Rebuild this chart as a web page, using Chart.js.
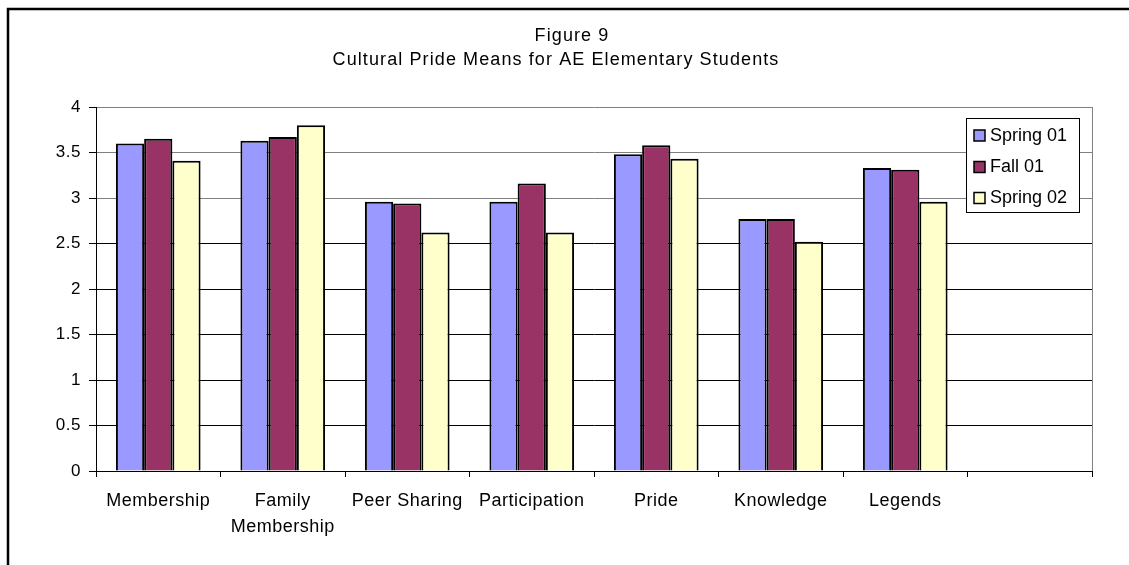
<!DOCTYPE html>
<html>
<head>
<meta charset="utf-8">
<script src="https://cdn.jsdelivr.net/npm/chart.js@4/dist/chart.umd.min.js"></script>
<style>
  html, body { margin: 0; padding: 0; background: #fff; }
  #wrap { width: 1129px; height: 565px; }
</style>
</head>
<body>
<div id="wrap"><canvas id="c" width="1129" height="565"></canvas></div>
<script>
const titleLines = ['Figure 9', 'Cultural Pride Means for AE Elementary Students'];
const categories = ['Membership', ['Family', 'Membership'], 'Peer Sharing', 'Participation', 'Pride', 'Knowledge', 'Legends', ''];
const seriesNames = ['Spring 01', 'Fall 01', 'Spring 02'];
const spring01 = [3.60, 3.63, 2.96, 2.96, 3.48, 2.77, 3.33, null];
const fall01   = [3.65, 3.67, 2.94, 3.16, 3.58, 2.77, 3.31, null];
const spring02 = [3.41, 3.80, 2.62, 2.62, 3.43, 2.52, 2.96, null];
const seriesColors = ['#9999FF', '#993366', '#FFFFCC'];
const yTicks = [0, 0.5, 1, 1.5, 2, 2.5, 3, 3.5, 4];

const FONT = '"Liberation Sans", Arial, sans-serif';

const framePlugin = {
  id: 'frame',
  beforeDraw(chart) {
    const ctx = chart.ctx;
    ctx.save();
    ctx.fillStyle = '#fff';
    ctx.fillRect(0, 0, chart.width, chart.height);
    ctx.restore();
    ctx.letterSpacing = '0.5px';
  },
  afterDraw(chart) {
    const ctx = chart.ctx;
    const a = chart.chartArea;
    ctx.save();
    // outer frame
    ctx.strokeStyle = '#000';
    ctx.lineWidth = 2.5;
    ctx.beginPath();
    ctx.moveTo(8, 565);
    ctx.lineTo(8, 9);
    ctx.lineTo(1129, 9);
    ctx.stroke();
    // plot area right border
    ctx.strokeStyle = '#808080';
    ctx.lineWidth = 1;
    ctx.beginPath();
    ctx.moveTo(a.right + 0.5, a.top);
    ctx.lineTo(a.right + 0.5, a.bottom);
    ctx.stroke();
    // title
    ctx.fillStyle = '#000';
    ctx.font = '18px ' + FONT;
    ctx.letterSpacing = '1.1px';
    ctx.textAlign = 'center';
    ctx.textBaseline = 'middle';
    ctx.fillText(titleLines[0], 572, 36);
    ctx.fillText(titleLines[1], 556, 60);
    // legend
    const bx = 966, by = 118, bw = 113, bh = 94;
    ctx.fillStyle = '#fff';
    ctx.fillRect(bx, by, bw, bh);
    ctx.strokeStyle = '#000';
    ctx.lineWidth = 1;
    ctx.strokeRect(bx + 0.5, by + 0.5, bw, bh);
    const rows = [135, 166.5, 197.5];
    ctx.letterSpacing = '0px';
    chart.data.datasets.forEach((ds, i) => {
      const y = rows[i];
      ctx.fillStyle = ds.backgroundColor;
      ctx.fillRect(974, y - 5, 11, 11);
      ctx.strokeStyle = '#000';
      ctx.lineWidth = 1.5;
      ctx.strokeRect(974, y - 5, 11, 11);
      ctx.fillStyle = '#000';
      ctx.font = '18px ' + FONT;
      ctx.textAlign = 'left';
      ctx.textBaseline = 'middle';
      ctx.fillText(ds.label, 990, y + 1);
    });
    ctx.restore();
  }
};

const datasets = [spring01, fall01, spring02].map((d, i) => ({
  label: seriesNames[i],
  data: d,
  backgroundColor: seriesColors[i],
  borderColor: '#000',
  borderWidth: 2,
  categoryPercentage: 0.68,
  barPercentage: 1.0
}));

new Chart(document.getElementById('c'), {
  type: 'bar',
  data: { labels: categories, datasets },
  options: {
    responsive: false,
    animation: false,
    layout: { padding: { top: 107, right: 37, left: 0, bottom: 0 } },
    plugins: { legend: { display: false }, title: { display: false }, tooltip: { enabled: false } },
    scales: {
      y: {
        min: 0, max: 4,
        afterBuildTicks(scale) { scale.ticks = yTicks.map(v => ({ value: v })); },
        afterFit(scale) { scale.width = 96; },
        ticks: {
          color: '#000',
          font: { family: FONT, size: 17 },
          padding: 8,
          callback: v => String(v)
        },
        grid: {
          color: ctx => (ctx.tick && ctx.tick.value >= 3) ? '#808080' : '#000',
          lineWidth: 1,
          tickLength: 7,
          tickColor: '#000'
        },
        border: { color: '#000', width: 1 }
      },
      x: {
        afterFit(scale) { scale.height = 94; },
        ticks: {
          color: '#000',
          font: { family: FONT, size: 18, lineHeight: 1.45 },
          padding: 11,
          maxRotation: 0,
          autoSkip: false
        },
        grid: {
          offset: true,
          drawOnChartArea: false,
          tickLength: 6,
          color: '#000'
        },
        border: { color: '#000', width: 1 }
      }
    }
  },
  plugins: [framePlugin]
});
</script>
</body>
</html>
